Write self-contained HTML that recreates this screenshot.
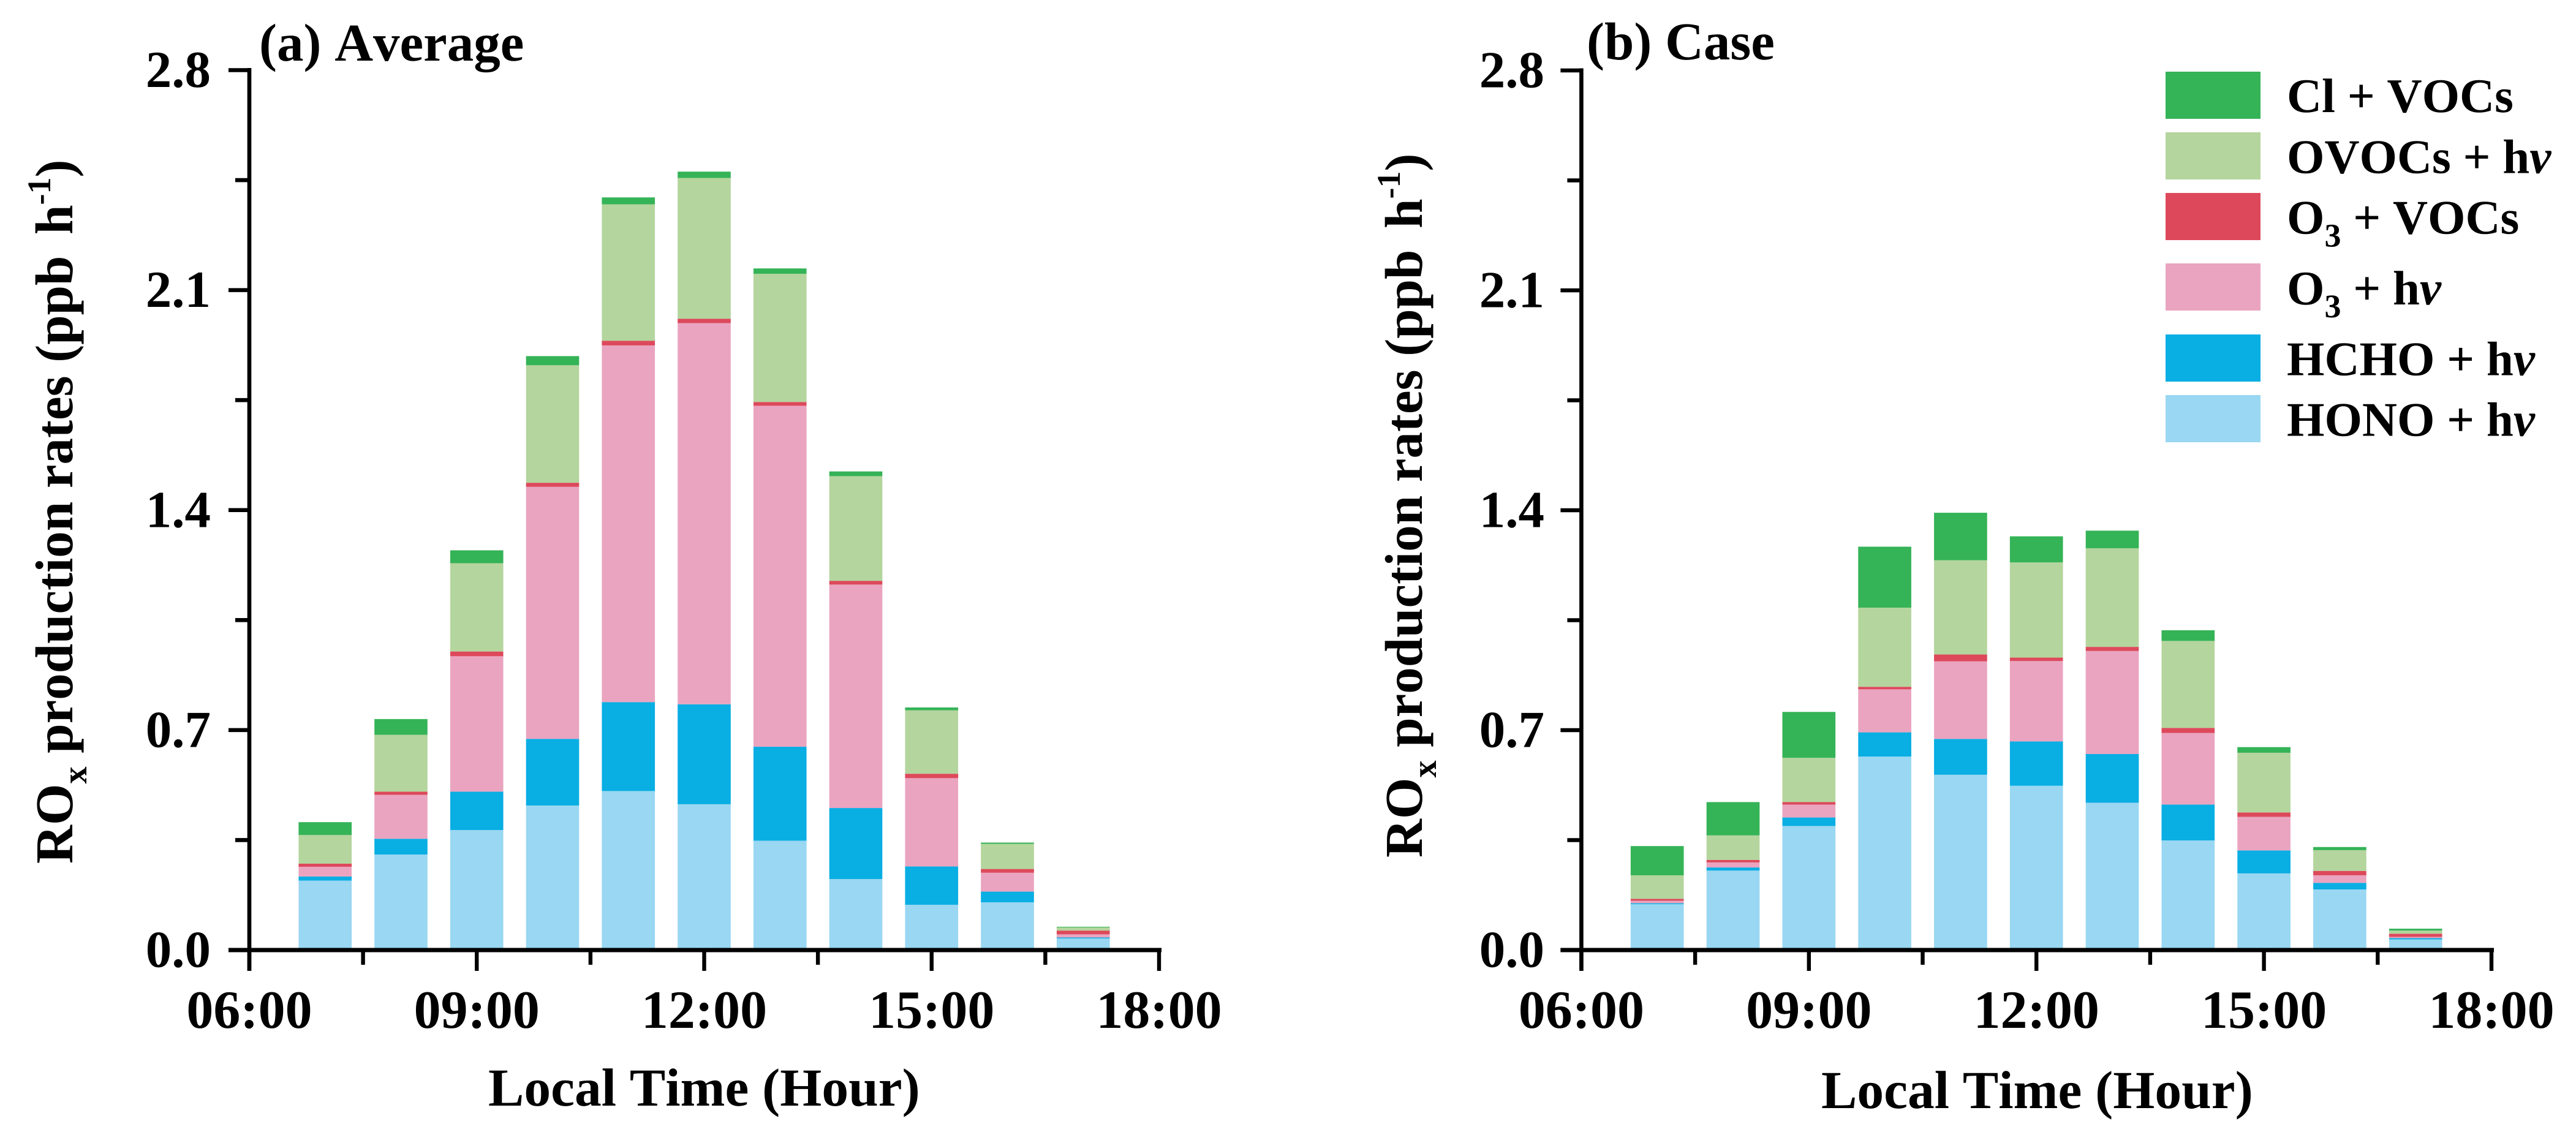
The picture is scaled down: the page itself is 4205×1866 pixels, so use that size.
<!DOCTYPE html>
<html lang="en">
<head>
<meta charset="utf-8">
<title>ROx production rates</title>
<style>
html,body{margin:0;padding:0;background:#fff;}
svg{display:block;}
text{font-family:"Liberation Serif",serif;font-weight:bold;fill:#000;font-kerning:none;text-rendering:geometricPrecision;}
</style>
</head>
<body>
<svg id="figure" xmlns="http://www.w3.org/2000/svg" width="4205" height="1866" viewBox="0 0 4205 1866">
  <rect x="0" y="0" width="4205" height="1866" fill="#ffffff"/>

  <g id="panel-a">
    <text x="423" y="99" font-size="87">(a) Average</text>
    <text transform="translate(118,1410) rotate(-90)" font-size="87">RO<tspan font-size="56" dy="23">x</tspan><tspan dy="-23"> production rates (ppb </tspan><tspan dx="13">h</tspan><tspan font-size="54" dy="-36">-1</tspan><tspan dy="36">)</tspan></text>
    <text x="797" y="1805" font-size="87.5">Local Time (Hour)</text>
  </g>

  <g id="panel-b">
    <text x="2590" y="97" font-size="87">(b) Case</text>
    <text transform="translate(2321,1400) rotate(-90)" font-size="87">RO<tspan font-size="56" dy="23">x</tspan><tspan dy="-23"> production rates (ppb </tspan><tspan dx="13">h</tspan><tspan font-size="54" dy="-36">-1</tspan><tspan dy="36">)</tspan></text>
    <text x="2973" y="1809" font-size="87.5">Local Time (Hour)</text>
  </g>

  <g id="legend">
    <g>
      <rect x="3535" y="117" width="155" height="77" fill="#35b357"/>
      <text x="3733" y="183" font-size="79">Cl + VOCs</text>
    </g>
    <g>
      <rect x="3535" y="216" width="155" height="77" fill="#b4d59d"/>
      <text x="3733" y="282.5" font-size="79">OVOCs + h<tspan font-style="italic">v</tspan></text>
    </g>
    <g>
      <rect x="3535" y="315" width="155" height="77" fill="#dd495b"/>
      <text x="3733" y="381.5" font-size="79">O<tspan font-size="54" dy="21">3</tspan><tspan dy="-21"> + VOCs</tspan></text>
    </g>
    <g>
      <rect x="3535" y="430" width="155" height="77" fill="#eaa4c0"/>
      <text x="3733" y="497" font-size="79">O<tspan font-size="54" dy="21">3</tspan><tspan dy="-21"> + h</tspan><tspan font-style="italic">v</tspan></text>
    </g>
    <g>
      <rect x="3535" y="546" width="155" height="77" fill="#09aee3"/>
      <text x="3733" y="612.5" font-size="79">HCHO + h<tspan font-style="italic">v</tspan></text>
    </g>
    <g>
      <rect x="3535" y="645" width="155" height="77" fill="#99d7f2"/>
      <text x="3733" y="711.5" font-size="79">HONO + h<tspan font-style="italic">v</tspan></text>
    </g>
  </g>
</svg>

<script>
// Categories and tick labels
const hours = [7, 8, 9, 10, 11, 12, 13, 14, 15, 16, 17];
const yMajorTicks = [0, 0.7, 1.4, 2.1, 2.8];
const yMinorTicks = [0.35, 1.05, 1.75, 2.45];
const yTickLabels = ['0.0', '0.7', '1.4', '2.1', '2.8'];
const xMajorTicks = [6, 9, 12, 15, 18];
const xMinorTicks = [7.5, 10.5, 13.5, 16.5];
const xTickLabels = ['06:00', '09:00', '12:00', '15:00', '18:00'];

// Panel (a) Average: rate of each source, ppb/h, bottom to top of each stack
const avgHono  = [0.221, 0.304, 0.382, 0.460, 0.506, 0.464, 0.348, 0.226, 0.144, 0.152, 0.037];
const avgHcho  = [0.013, 0.050, 0.122, 0.212, 0.283, 0.318, 0.299, 0.226, 0.122, 0.034, 0.003];
const avgO3Hv  = [0.031, 0.140, 0.431, 0.802, 1.135, 1.213, 1.085, 0.711, 0.281, 0.060, 0.010];
const avgO3Voc = [0.010, 0.010, 0.015, 0.013, 0.015, 0.014, 0.012, 0.012, 0.014, 0.012, 0.012];
const avgOvoc  = [0.091, 0.181, 0.281, 0.374, 0.434, 0.448, 0.408, 0.333, 0.202, 0.080, 0.010];
const avgCl    = [0.041, 0.050, 0.041, 0.029, 0.022, 0.020, 0.017, 0.015, 0.009, 0.004, 0.002];

// Panel (b) Case
const caseHono  = [0.146, 0.253, 0.395, 0.616, 0.558, 0.523, 0.469, 0.349, 0.244, 0.193, 0.034];
const caseHcho  = [0.003, 0.010, 0.027, 0.077, 0.114, 0.141, 0.155, 0.114, 0.073, 0.021, 0.004];
const caseO3Hv  = [0.008, 0.016, 0.041, 0.137, 0.247, 0.256, 0.328, 0.228, 0.107, 0.024, 0.004];
const caseO3Voc = [0.006, 0.008, 0.008, 0.008, 0.022, 0.011, 0.013, 0.016, 0.014, 0.014, 0.010];
const caseOvoc  = [0.075, 0.078, 0.141, 0.252, 0.300, 0.303, 0.314, 0.277, 0.190, 0.066, 0.010];
const caseCl    = [0.093, 0.106, 0.146, 0.194, 0.151, 0.083, 0.056, 0.034, 0.018, 0.010, 0.006];

const NS = 'http://www.w3.org/2000/svg';

function drawPanel(groupId, key, series, geom) {
  const group = document.getElementById(groupId);
  const xScale = h => geom.x0 + (h - 6) * (geom.x1 - geom.x0) / 12;
  const yScale = v => geom.y0 - v * (geom.y0 - geom.yTop) / 2.8;
  const barWidth = 0.7 * (geom.x1 - geom.x0) / 12;

  // Stacked bars
  hours.forEach((hour, i) => {
    let base = 0;
    series.forEach(s => {
      const value = s.values[i];
      const bar = document.createElementNS(NS, 'rect');
      
      
      bar.setAttribute('x', xScale(hour) - barWidth / 2);
      bar.setAttribute('y', yScale(base + value));
      bar.setAttribute('width', barWidth);
      bar.setAttribute('height', yScale(base) - yScale(base + value));
      bar.setAttribute('fill', s.color);
      group.appendChild(bar);
      base += value;
    });
  });

  const segment = (x1, y1, x2, y2, width) => {
    const line = document.createElementNS(NS, 'line');
    line.setAttribute('x1', x1);
    line.setAttribute('y1', y1);
    line.setAttribute('x2', x2);
    line.setAttribute('y2', y2);
    line.setAttribute('stroke', '#000');
    line.setAttribute('stroke-width', width);
    group.appendChild(line);
    return line;
  };

  // Axis lines
  const yAxisLine = segment(geom.x0, geom.yTop - 3.5, geom.x0, geom.y0 + 34, 6.6);
  
  
  const xAxisLine = segment(geom.x0 - 34, geom.y0, geom.x1 + 4, geom.y0, 7);
  
  

  // Y ticks and labels
  yMajorTicks.forEach((v, i) => {
    const tick = segment(geom.x0 - 34, yScale(v), geom.x0, yScale(v), 6.6);
    
    
    const label = document.createElementNS(NS, 'text');
    
    
    label.setAttribute('x', geom.yLabelRight);
    label.setAttribute('y', yScale(v) + 27.5);
    label.setAttribute('font-size', '85');
    label.setAttribute('text-anchor', 'end');
    label.textContent = yTickLabels[i];
    group.appendChild(label);
  });
  yMinorTicks.forEach(v => {
    const tick = segment(geom.x0 - 23, yScale(v), geom.x0, yScale(v), 6.6);
    
    
  });

  // X ticks and labels
  xMajorTicks.forEach((h, i) => {
    const tick = segment(xScale(h), geom.y0, xScale(h), geom.y0 + 34, 6.4);
    
    
    const label = document.createElementNS(NS, 'text');
    
    
    label.setAttribute('x', xScale(h));
    label.setAttribute('y', geom.y0 + 127);
    label.setAttribute('font-size', '88');
    label.setAttribute('text-anchor', 'middle');
    label.textContent = xTickLabels[i];
    group.appendChild(label);
  });
  xMinorTicks.forEach(h => {
    const tick = segment(xScale(h), geom.y0, xScale(h), geom.y0 + 24, 6.4);
    
    
  });
}

const colors = { hono: '#99d7f2', hcho: '#09aee3', o3hv: '#eaa4c0', o3voc: '#dd495b', ovoc: '#b4d59d', cl: '#35b357' };

drawPanel('panel-a', 'average', [
  { name: 'hono-hv', values: avgHono, color: colors.hono },
  { name: 'hcho-hv', values: avgHcho, color: colors.hcho },
  { name: 'o3-hv', values: avgO3Hv, color: colors.o3hv },
  { name: 'o3-vocs', values: avgO3Voc, color: colors.o3voc },
  { name: 'ovocs-hv', values: avgOvoc, color: colors.ovoc },
  { name: 'cl-vocs', values: avgCl, color: colors.cl }
], { x0: 407, x1: 1892, y0: 1551, yTop: 114.5, yLabelRight: 344 });

drawPanel('panel-b', 'case', [
  { name: 'hono-hv', values: caseHono, color: colors.hono },
  { name: 'hcho-hv', values: caseHcho, color: colors.hcho },
  { name: 'o3-hv', values: caseO3Hv, color: colors.o3hv },
  { name: 'o3-vocs', values: caseO3Voc, color: colors.o3voc },
  { name: 'ovocs-hv', values: caseOvoc, color: colors.ovoc },
  { name: 'cl-vocs', values: caseCl, color: colors.cl }
], { x0: 2581.4, x1: 4067, y0: 1551, yTop: 115, yLabelRight: 2521 });
</script>
</body>
</html>
